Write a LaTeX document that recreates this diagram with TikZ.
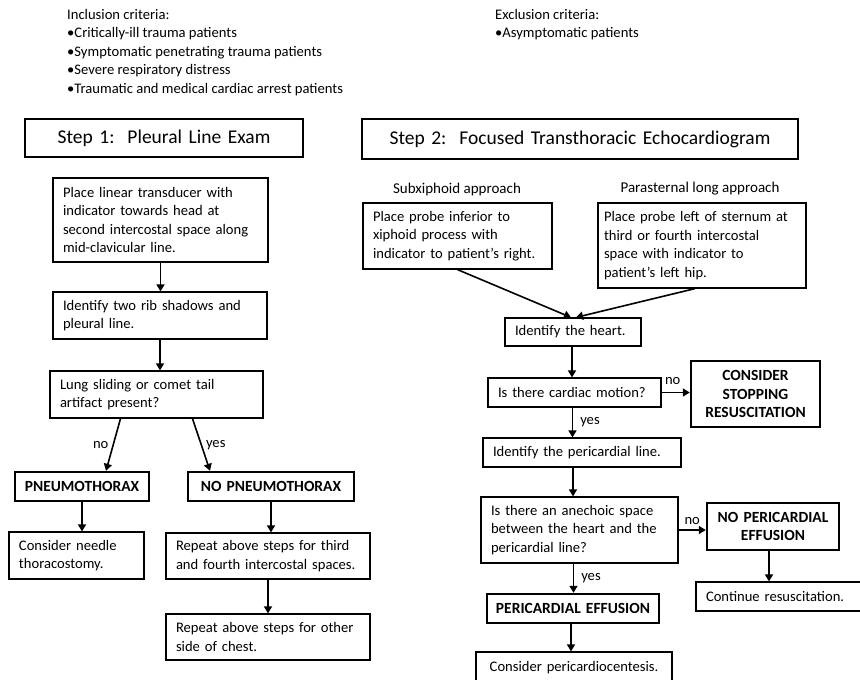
\documentclass[tikz,border=0pt]{standalone}
\usepackage{fontspec}
\setmainfont{Carlito}
\usetikzlibrary{calc,positioning,arrows.meta}
\newcommand*{\boxfont}{\fontsize{14.6}{18.5}\selectfont\hyphenpenalty=10000\exhyphenpenalty=10000}
\tikzset{%
  box/.style={draw, line width=1.2pt, rectangle, align=left, inner xsep=10pt, inner ysep=2pt,
    font=\boxfont},% plain step box
  result/.style={box, line width=2.4pt, align=center, inner xsep=4pt, font=\bfseries\fontsize{15.5}{18.5}\selectfont},% outcome box
  title/.style={box, line width=1.4pt, align=center, font=\fontsize{19.5}{22}\selectfont},% step heading
  crit/.style={anchor=north west, align=left, inner sep=0pt, font=\boxfont},% criteria text
  approach/.style={font=\fontsize{15}{18}\selectfont},% approach heading
  arr/.style={line width=1.6pt, -{Triangle[length=7pt,width=8pt]}},% connector
  lab/.style={font=\fontsize{14.6}{16}\selectfont, inner sep=1pt}% yes / no
}
\begin{document}
\begin{tikzpicture}[x=1pt, y=-1pt]
\useasboundingbox (0,0) rectangle (860,680);

% criteria
\node[crit] (incl) at (67,9) {Inclusion criteria:\\ •Critically-ill trauma patients\\ •Symptomatic penetrating trauma patients\\ •Severe respiratory distress\\ •Traumatic and medical cardiac arrest patients};
\node[crit] (excl) at (495,9) {Exclusion criteria:\\ •Asymptomatic patients};

% step 1
\node[title, text width=258, minimum height=38] (step1) at (164,138) {Step 1:\ \ Pleural Line Exam};
\node[box, text width=195, minimum height=84] (place) at (160.5,220) {Place linear transducer with\\ indicator towards head at\\ second intercostal space along\\ mid-clavicular line.};
\node[box, text width=194, minimum height=47] (ribs) at (160,315.5) {Identify two rib shadows and\\ pleural line.};
\node[box, text width=193, minimum height=47] (sliding) at (156.5,394.5) {Lung sliding or comet tail\\ artifact present?};
\node[result, text width=126, minimum height=29] (pneumo) at (82,486.5) {PNEUMOTHORAX};
\node[result, text width=158, minimum height=29] (nopneumo) at (271,486.5) {NO PNEUMOTHORAX};
\node[box, text width=115, minimum height=47] (needle) at (76.5,555.5) {Consider needle\\ thoracostomy.};
\node[box, text width=184, minimum height=46] (third) at (268,556) {Repeat above steps for third\\ and fourth intercostal spaces.};
\node[box, text width=184, minimum height=46] (other) at (268,637) {Repeat above steps for other\\ side of chest.};

\draw[arr] (place.south) -- (place.south |- ribs.north);
\draw[arr] (ribs.south) -- (ribs.south |- sliding.north);
\draw[arr] ($(sliding.south)+(-36,0)$) -- node[lab, left=3pt] {no} ($(pneumo.north)+(24,0)$);
\draw[arr] ($(sliding.south)+(36,0)$) -- node[lab, right=3pt] {yes} ($(nopneumo.north)+(-61,0)$);
\draw[arr] (pneumo.south) -- (pneumo.south |- needle.north);
\draw[arr] (nopneumo.south) -- (nopneumo.south |- third.north);
\draw[arr] (third.south) -- (third.south |- other.north);

% step 2
\node[title, text width=416, minimum height=40] (step2) at (580,139) {Step 2:\ \ Focused Transthoracic Echocardiogram};
\node[approach] (subxlab) at (457,189) {Subxiphoid approach};
\node[approach] (paralab) at (700,189) {Parasternal long approach};
\node[box, text width=169, minimum height=66] (subx) at (457.5,236) {Place probe inferior to\\ xiphoid process with\\ indicator to patient’s right.};
\node[box, text width=196, minimum height=85, inner xsep=6pt] (para) at (702,245.5) {Place probe left of sternum at\\ third or fourth intercostal\\ space with indicator to\\ patient’s left hip.};
\node[box, text width=116, minimum height=28] (heart) at (573,332) {Identify the heart.};
\node[box, text width=153, minimum height=29] (motion) at (574.5,392.5) {Is there cardiac motion?};
\node[result, text width=121, minimum height=66] (stop) at (755.5,394) {CONSIDER\\ STOPPING\\ RESUSCITATION};
\node[box, text width=178, minimum height=29] (pericline) at (582,452.5) {Identify the pericardial line.};
\node[box, text width=177, minimum height=66] (anechoic) at (579.5,530) {Is there an anechoic space\\ between the heart and the\\ pericardial line?};
\node[result, text width=124, minimum height=47] (nopeff) at (773,526.5) {NO PERICARDIAL\\ EFFUSION};
\node[box, text width=146, minimum height=29] (continue) at (779,596.5) {Continue resuscitation.};
\node[result, text width=164, minimum height=29] (peff) at (573,608.5) {PERICARDIAL EFFUSION};
\node[box, text width=176, minimum height=32, align=center] (centesis) at (574,668) {Consider pericardiocentesis.};

\draw[arr] (subx.south) -- ($(heart.north)+(-2,0)$);
\draw[arr] ($(para.south)+(-7,0)$) -- ($(heart.north)+(3,0)$);
\draw[arr] ($(heart.south)+(-1,0)$) -- ($(heart.south |- motion.north)+(-1,0)$);
\draw[arr] (motion.east) -- node[lab, above=6pt, xshift=-3pt] {no} (motion.east -| stop.west);
\draw[arr] ($(motion.south)+(-2,0)$) -- node[lab, right=6pt] {yes} ($(motion.south |- pericline.north)+(-2,0)$);
\draw[arr] ($(pericline.south)+(-9,0)$) -- ($(pericline.south |- anechoic.north)+(-9,0)$);
\draw[arr] (anechoic.east) -- node[lab, above=4pt] {no} (anechoic.east -| nopeff.west);
\draw[arr] (nopeff.south) ++(-4,0) -- ($(nopeff.south |- continue.north)+(-4,0)$);
\draw[arr] ($(anechoic.south)+(-6,0)$) -- node[lab, right=6pt] {yes} ($(anechoic.south |- peff.north)+(-6,0)$);
\draw[arr] ($(peff.south)+(-2,0)$) -- ($(peff.south |- centesis.north)+(-2,0)$);

\end{tikzpicture}
\end{document}
